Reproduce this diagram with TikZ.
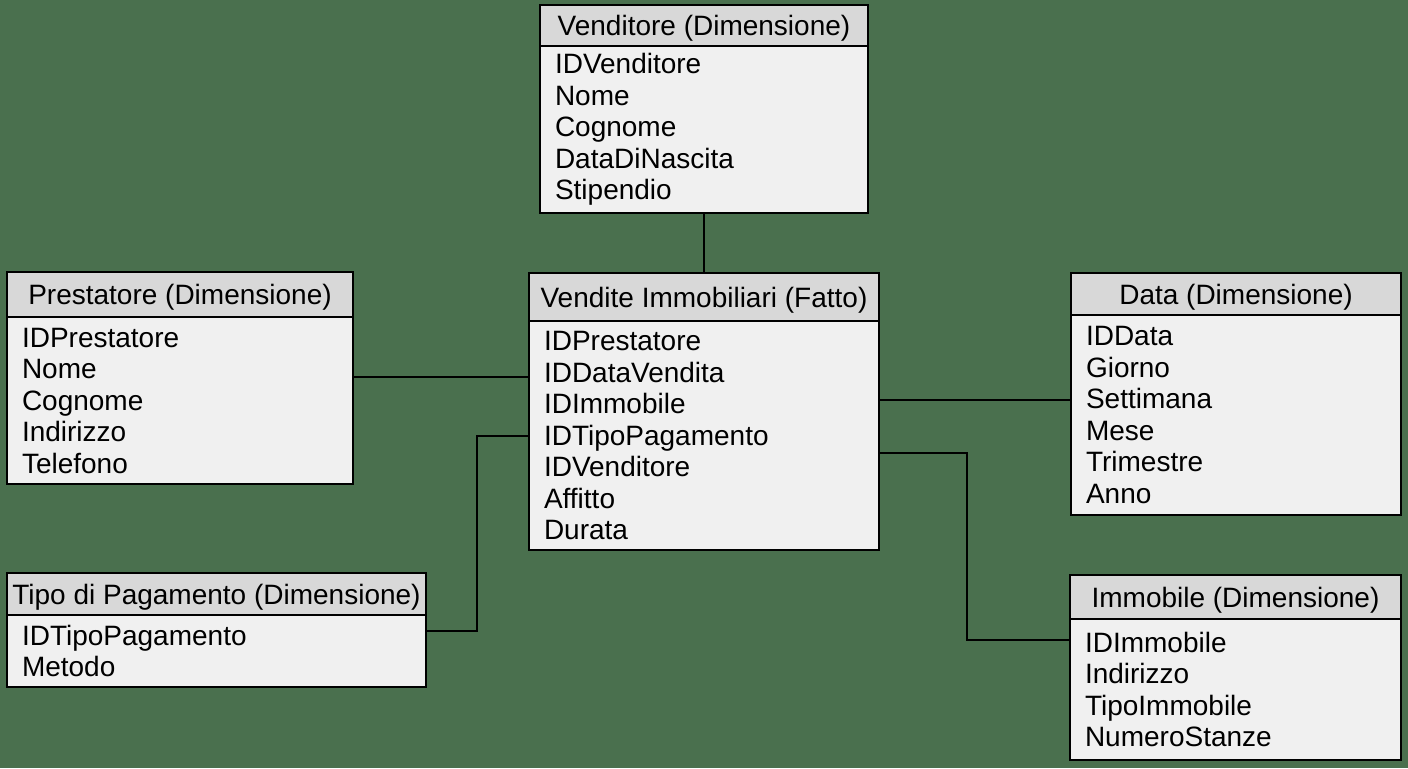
\documentclass[tikz,border=0pt]{standalone}
\usepackage{fontspec}
\setmainfont{Liberation Sans}
\usepackage{xcolor}
\usetikzlibrary{positioning}
\definecolor{sfondo}{RGB}{74,112,78}
\definecolor{testata}{RGB}{216,216,216}
\definecolor{corpo}{RGB}{240,240,240}

\begin{document}
\begin{tikzpicture}[
  x=0.5pt, y=-0.5pt,
  titolo/.style={draw=black, line width=1pt, fill=testata, anchor=north west,
    inner xsep=0pt, inner ysep=0pt, outer sep=0pt, align=center, text depth=0pt,
    font=\fontsize{14}{15.75}\selectfont},
  campi/.style={draw=black, line width=1pt, fill=corpo, inner xsep=7.5pt,
    inner ysep=0pt, outer sep=0pt, align=left,
    font=\fontsize{14}{15.75}\selectfont},
  link/.style={draw=black, line width=1pt},
]
  \fill[sfondo] (0,0) rectangle (1408,768);

  \node[titolo, minimum width=164pt, minimum height=20.5pt] (vend) at (540,5) {Venditore (Dimensione)};
  \node[campi, text width=149pt, minimum height=83.5pt, below=0pt of vend] (vendcampi)
    {IDVenditore\\Nome\\Cognome\\DataDiNascita\\Stipendio};

  \node[titolo, minimum width=173pt, minimum height=22.5pt] (prest) at (7,272) {Prestatore (Dimensione)};
  \node[campi, text width=158pt, minimum height=83.5pt, below=0pt of prest] (prestcampi)
    {IDPrestatore\\Nome\\Cognome\\Indirizzo\\Telefono};

  \node[titolo, minimum width=175pt, minimum height=24pt] (fatto) at (529,273) {Vendite Immobiliari (Fatto)};
  \node[campi, text width=160pt, minimum height=114.5pt, below=0pt of fatto] (fattocampi)
    {IDPrestatore\\IDDataVendita\\IDImmobile\\IDTipoPagamento\\IDVenditore\\Affitto\\Durata};

  \node[titolo, minimum width=165pt, minimum height=21pt] (data) at (1071,273) {Data (Dimensione)};
  \node[campi, text width=150pt, minimum height=100pt, below=0pt of data] (datacampi)
    {IDData\\Giorno\\Settimana\\Mese\\Trimestre\\Anno};

  \node[titolo, minimum width=209.5pt, minimum height=21pt] (tipo) at (7,573) {Tipo di Pagamento (Dimensione)};
  \node[campi, text width=194.5pt, minimum height=36pt, below=0pt of tipo] (tipocampi)
    {IDTipoPagamento\\Metodo};

  \node[titolo, minimum width=165.5pt, minimum height=22pt] (imm) at (1070,575) {Immobile (Dimensione)};
  \node[campi, text width=150.5pt, minimum height=70.5pt, below=0pt of imm] (immcampi)
    {IDImmobile\\Indirizzo\\TipoImmobile\\NumeroStanze};

  \draw[link] (vendcampi.south) -- (fatto.north);
  \draw[link] ([yshift=12pt]prestcampi.east) -- ([yshift=12pt]prestcampi.east -| fattocampi.west);
  \draw[link] ([yshift=17.75pt]fattocampi.east) -- ([yshift=17.75pt]fattocampi.east -| datacampi.west);
  \draw[link] (fattocampi.west) -- ++(-52,0) |- ([yshift=10pt]tipocampi.east);
  \draw[link] ([yshift=-8.75pt]fattocampi.east) -- ++(88,0) |- ([yshift=25pt]immcampi.west);
\end{tikzpicture}
\end{document}
